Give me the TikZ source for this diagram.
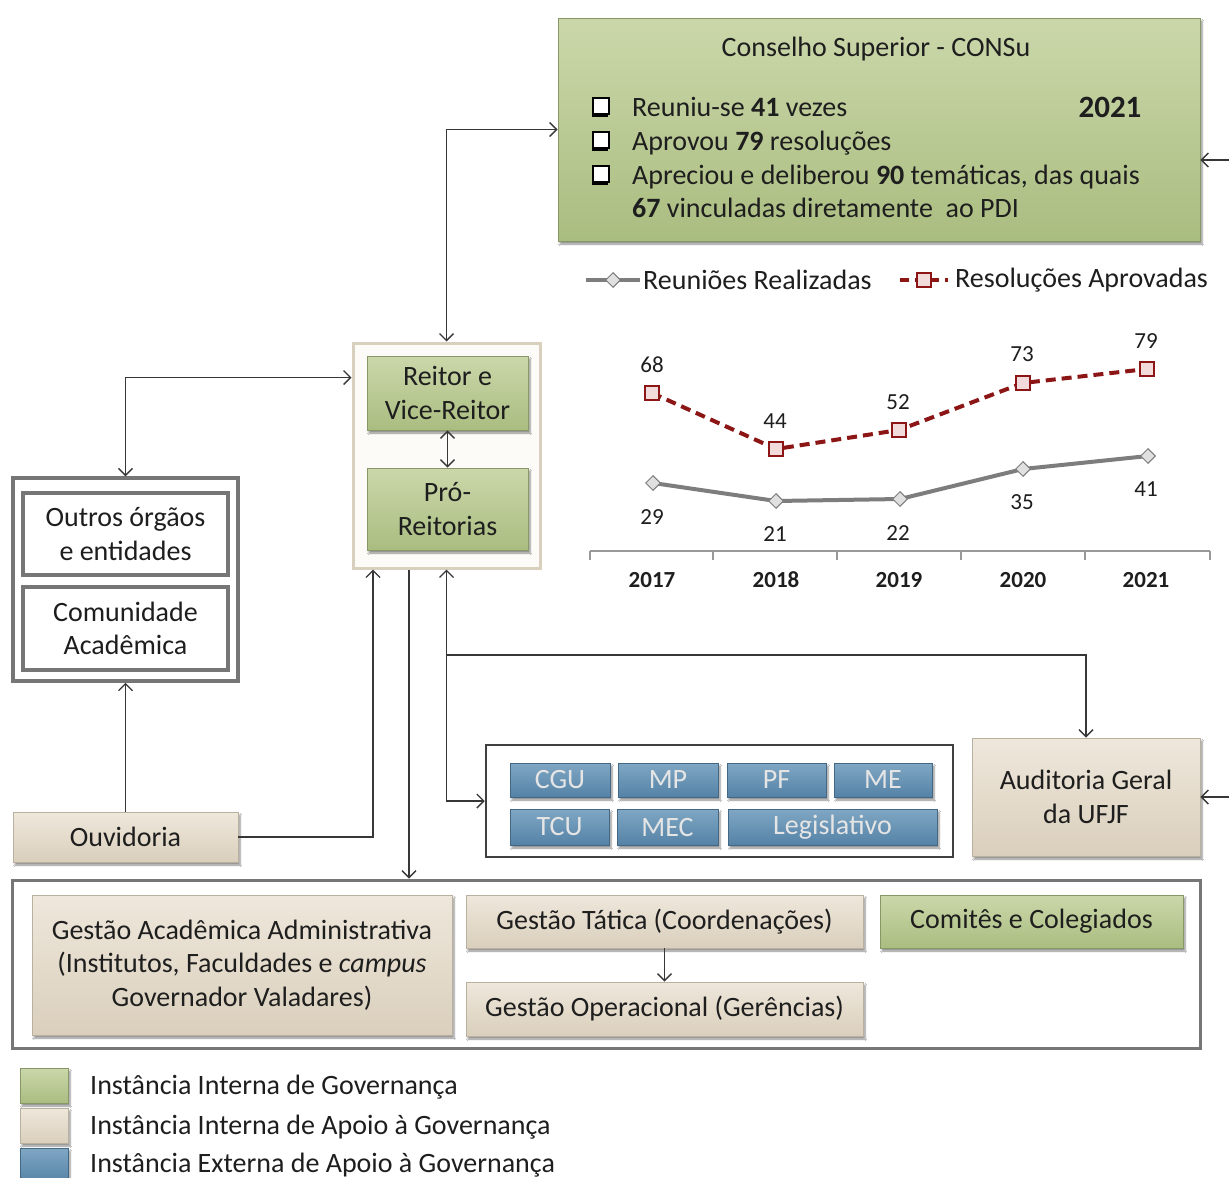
\documentclass[tikz,border=0pt]{standalone}
\usepackage{fontspec}
\setmainfont{Carlito}
\usetikzlibrary{arrows.meta,shapes.geometric,shadows,shadows.blur}
\definecolor{grn}{RGB}{170,189,128}
\definecolor{grnl}{RGB}{203,215,170}
\definecolor{bge}{RGB}{218,207,188}
\definecolor{bgel}{RGB}{238,231,219}
\definecolor{blu}{RGB}{84,130,166}
\definecolor{blul}{RGB}{128,167,196}
\definecolor{txt}{RGB}{30,30,30}
\definecolor{ln}{RGB}{55,55,55}
\definecolor{gbord}{RGB}{118,118,118}
\definecolor{dred}{RGB}{140,22,22}
\definecolor{pinkf}{RGB}{242,220,219}
\definecolor{gline}{RGB}{125,125,125}
\definecolor{cream}{RGB}{252,251,247}
\definecolor{creamb}{RGB}{216,207,190}
\begin{document}
\begin{tikzpicture}[x=1pt,y=-1pt,
  mainfont/.style={font=\fontsize{28}{33.5}\selectfont},
  box/.style={rectangle, inner sep=0pt, align=center, text=txt, mainfont,
    blur shadow={shadow xshift=2pt, shadow yshift=-3pt, shadow blur steps=6, shadow opacity=45}},
  gbox/.style={box, top color=grnl, bottom color=grn, draw=grn!80!black, line width=0.6pt},
  bbox/.style={box, top color=bgel, bottom color=bge, draw=bge!85!black, line width=0.6pt},
  blbox/.style={box, top color=blul, bottom color=blu, draw=blu!80!black, line width=0.6pt, text=white!90!black},
  frame/.style={rectangle, draw=gbord, line width=3.5pt, fill=white, inner sep=0pt, align=center, text=txt, mainfont},
  conn/.style={draw=ln, line width=1.4pt},
  arr/.style={conn, -{Straight Barb[length=7pt,width=14pt,line width=1.4pt]}},
  darr/.style={conn, {Straight Barb[length=7pt,width=14pt,line width=1.4pt]}-{Straight Barb[length=7pt,width=14pt,line width=1.4pt]}},
  num/.style={font=\fontsize{23}{26}\selectfont, text=txt, inner sep=0pt},
  yr/.style={font=\fontsize{23}{26}\selectfont\bfseries, text=txt, inner sep=0pt},
  gdiam/.style={diamond, draw=gline, fill=black!12, line width=1pt, minimum width=15pt, minimum height=15pt, inner sep=0pt},
  rsq/.style={rectangle, draw=dred, fill=pinkf, line width=1.2pt, minimum width=14pt, minimum height=14pt, inner sep=0pt},
  gser/.style={draw=gline, line width=4pt},
  rser/.style={draw=dred, line width=4pt, dash pattern=on 10pt off 6pt},
  ctext/.style={anchor=base west, inner sep=0pt, text=txt, mainfont},
  bul/.style={rectangle, draw=black, fill=white, line width=1.3pt, minimum width=16pt, minimum height=16pt, inner sep=0pt,
    general shadow={shadow xshift=-1.5pt, shadow yshift=-3pt, fill=black}}
]
\useasboundingbox[fill=white] (0,0) rectangle (1229,1178);
\clip (0,0) rectangle (1229,1178);

% ---------- CONSu ----------
\node[gbox, minimum width=642pt, minimum height=223pt] (consu) at (879,129.5) {};
\node[ctext, anchor=base] (consut) at (876,56) {Conselho Superior - CONSu};
\node[bul] (b1) at (601,106) {};
\node[bul] (b2) at (601,140) {};
\node[bul] (b3) at (601,174) {};
\node[ctext] (l1) at (632,116) {Reuniu-se \textbf{41} vezes};
\node[ctext] (l2) at (632,150) {Aprovou \textbf{79} resoluções};
\node[ctext] (l3) at (632,184) {Apreciou e deliberou \textbf{90} temáticas, das quais};
\node[ctext] (l4) at (632,217) {\textbf{67} vinculadas diretamente\ \ ao PDI};
\node[ctext, anchor=base, font=\fontsize{31}{34}\selectfont\bfseries] (y21) at (1110,117) {2021};

% ---------- chart legend ----------
\coordinate (lg1) at (586,280); \coordinate (lg2) at (640,280);
\draw[gser] (lg1) -- (lg2);
\node[gdiam] (lgd) at (613,280) {};
\node[ctext, anchor=west] (lgt1) at (643,280) {Reuniões Realizadas};
\coordinate (lr1) at (900,280); \coordinate (lr2) at (948,280);
\draw[draw=dred, line width=4pt, dash pattern=on 9pt off 6pt] (lr1) -- (lr2);
\node[rsq] (lrs) at (924,280) {};
\node[ctext, anchor=west] (lgt2) at (955,280) {Resoluções Aprovadas};

% ---------- chart ----------
\coordinate (ax1) at (590,551); \coordinate (ax2) at (1210,551);
\draw[draw=black!40, line width=1.3pt] (ax1) -- (ax2);
\foreach \t in {590,713,837,961,1085,1210} \draw[draw=black!40, line width=1.3pt] (\t,551) -- (\t,560);
\foreach \x/\y in {652/2017,776/2018,899/2019,1023/2020,1146/2021} \node[yr] at (\x,580) {\y};

\coordinate (r1) at (652,393); \coordinate (r2) at (776,449); \coordinate (r3) at (899,430);
\coordinate (r4) at (1023,383); \coordinate (r5) at (1147,369);
\coordinate (g1) at (653,483); \coordinate (g2) at (776,501); \coordinate (g3) at (900,499);
\coordinate (g4) at (1023,469); \coordinate (g5) at (1148,456);
\draw[gser] (g1) -- (g2) -- (g3) -- (g4) -- (g5);
\draw[rser] (r1) -- (r2) -- (r3) -- (r4) -- (r5);
\foreach \p in {g1,g2,g3,g4,g5} \node[gdiam] at (\p) {};
\foreach \p in {r1,r2,r3,r4,r5} \node[rsq] at (\p) {};
\node[num] at (652,365) {68}; \node[num] at (775,421) {44}; \node[num] at (898,402) {52};
\node[num] at (1022,354) {73}; \node[num] at (1146,341) {79};
\node[num] at (652,517) {29}; \node[num] at (775,534) {21}; \node[num] at (898,533) {22};
\node[num] at (1022,502) {35}; \node[num] at (1146,489) {41};

% ---------- Reitor container ----------
\node[rectangle, fill=cream, draw=creamb, line width=3pt, minimum width=187pt, minimum height=225pt, inner sep=0pt] (reitorc) at (446.5,455.5) {};
\node[gbox, minimum width=161pt, minimum height=74pt] (reitor) at (447.5,393) {Reitor e\\Vice-Reitor};
\node[gbox, minimum width=161pt, minimum height=82pt] (pro) at (447.5,509) {Pró-\\Reitorias};

% ---------- left group ----------
\node[frame, minimum width=225pt, minimum height=203pt] (outer) at (125.5,579.5) {};
\node[frame, minimum width=205pt, minimum height=82pt] (outros) at (125.5,534) {Outros órgãos\\e entidades};
\node[frame, minimum width=205pt, minimum height=83pt] (comun) at (125.5,628.5) {Comunidade\\Acadêmica};
\node[bbox, minimum width=225pt, minimum height=50pt] (ouvid) at (125.5,837) {Ouvidoria};

% ---------- external ----------
\node[rectangle, draw=black!75, line width=2.5pt, fill=white, minimum width=467pt, minimum height=112pt, inner sep=0pt] (ext) at (719.5,801) {};
\node[blbox, minimum width=100pt, minimum height=34pt] (cgu) at (560,780) {CGU};
\node[blbox, minimum width=100pt, minimum height=34pt] (mp) at (668,780) {MP};
\node[blbox, minimum width=99pt, minimum height=34pt] (pf) at (776.5,780) {PF};
\node[blbox, minimum width=98pt, minimum height=34pt] (me) at (883,780) {ME};
\node[blbox, minimum width=99pt, minimum height=36pt] (tcu) at (559.5,827) {TCU};
\node[blbox, minimum width=101pt, minimum height=36pt] (mec) at (667.5,827) {MEC};
\node[blbox, minimum width=209pt, minimum height=36pt] (leg) at (832.5,827) {Legislativo};

\node[bbox, minimum width=228pt, minimum height=118pt] (audit) at (1086,797) {Auditoria Geral\\da UFJF};

% ---------- bottom group ----------
\node[rectangle, draw=gbord, line width=3pt, fill=white, minimum width=1188pt, minimum height=168pt, inner sep=0pt] (bottom) at (606,964) {};
\node[bbox, minimum width=420pt, minimum height=140pt] (gaa) at (242,965) {Gestão Acadêmica Administrativa\\(Institutos, Faculdades e \textit{campus}\\Governador Valadares)};
\node[bbox, minimum width=397pt, minimum height=53pt] (gt) at (664.5,921.5) {Gestão Tática (Coordenações)};
\node[bbox, minimum width=397pt, minimum height=54pt] (go) at (664.5,1009) {Gestão Operacional (Gerências)};
\node[gbox, minimum width=303pt, minimum height=53pt] (com) at (1031.5,921.5) {Comitês e Colegiados};

% ---------- legend ----------
\node[gbox, minimum width=48pt, minimum height=35pt] (lgg) at (44,1085.5) {};
\node[bbox, minimum width=48pt, minimum height=35pt] (lgb) at (44,1125.5) {};
\node[blbox, minimum width=48pt, minimum height=35pt] (lgl) at (44,1165.5) {};
\node[ctext, anchor=west] (lt1) at (90,1087) {Instância Interna de Governança};
\node[ctext, anchor=west] (lt2) at (90,1127) {Instância Interna de Apoio à Governança};
\node[ctext, anchor=west] (lt3) at (90,1165) {Instância Externa de Apoio à Governança};

% ---------- connectors ----------
\draw[darr] (consu.west) -| (reitorc.north);
\draw[darr] (outer.north) |- ([yshift=78pt]reitorc.west);
\draw[darr] (reitor.south) -- (pro.north);
\draw[arr] (ouvid.north) -- (outer.south);
\draw[arr] (ouvid.east) -| ([xshift=-73.5pt]reitorc.south);
\draw[arr] ([xshift=-37.5pt]reitorc.south) -- ([xshift=-37.5pt]reitorc.south |- bottom.north);
\draw[darr] (reitorc.south) |- (ext.west);
\coordinate (jn) at (446.5,655);
\draw[arr] (jn) -| (audit.north);
\draw[arr] (gt.south) -- (go.north);
\coordinate (e1) at (1229,160);
\draw[arr] (e1) -- (e1 -| consu.east);
\coordinate (e2) at (1229,797);
\draw[arr] (e2) -- (audit.east);
\end{tikzpicture}
\end{document}
